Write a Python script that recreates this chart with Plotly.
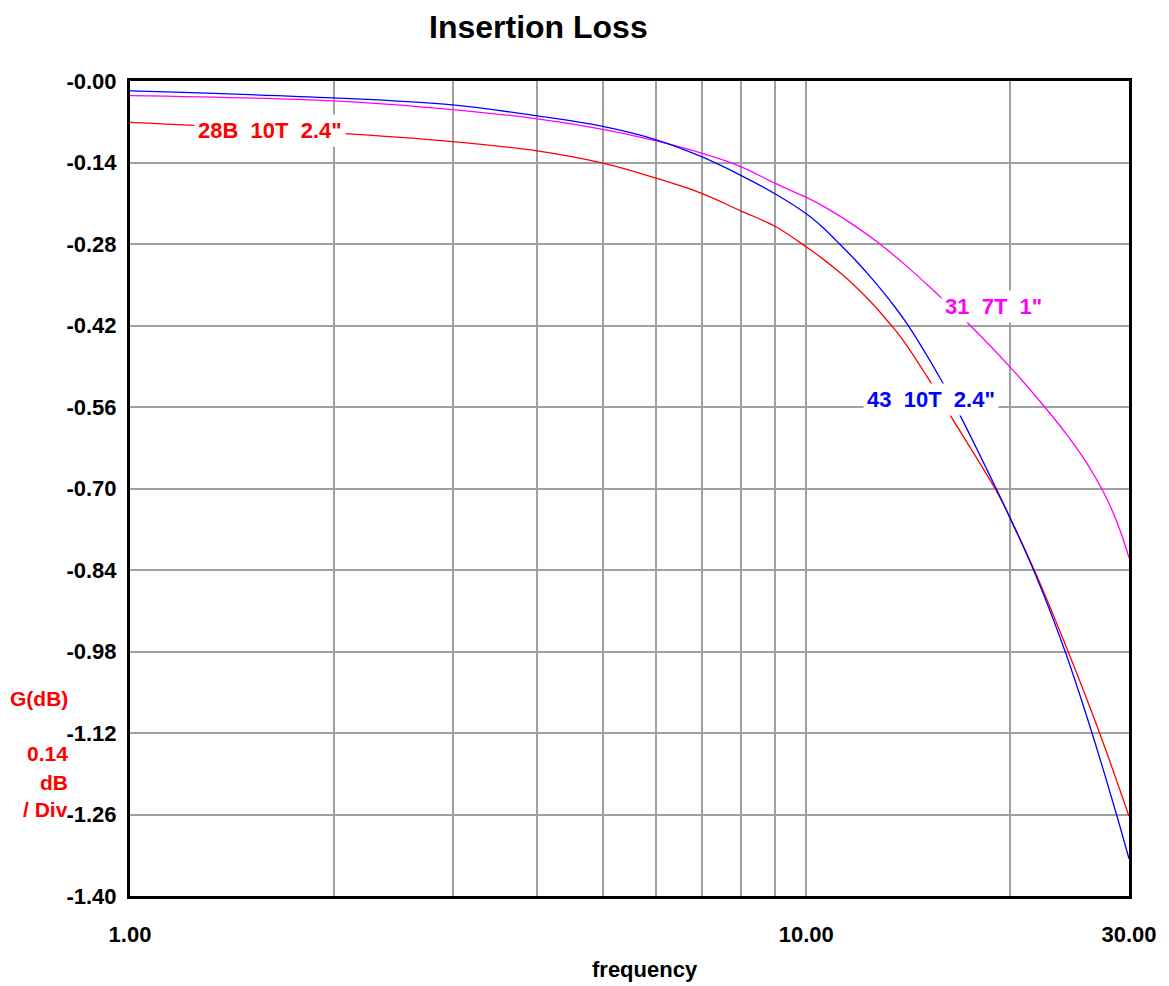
import plotly.graph_objects as go

# ---- data ----
freq_43 = [1, 2, 3, 4, 5, 6, 7, 8, 9, 10, 10.59, 11.09, 11.87, 12.56, 13.29, 14.07,
           15.85, 16.77, 19.1, 20, 21.8, 24.1, 26.4, 28.7, 30]
gain_43 = [-0.017, -0.029, -0.041, -0.060, -0.078, -0.101, -0.130, -0.162, -0.194,
           -0.228, -0.252, -0.275, -0.310, -0.342, -0.377, -0.416,
           -0.515, -0.568, -0.701, -0.750, -0.847, -0.978, -1.117, -1.257, -1.336]

freq_28b = [1, 2, 3, 4, 5, 6, 7, 8, 9, 10, 10.59, 11.21, 11.87, 12.56, 13.29, 13.75,
            15.2, 16.2, 19.1, 20, 21.8, 24.4, 27.2, 30]
gain_28b = [-0.071, -0.089, -0.104, -0.120, -0.141, -0.167, -0.193, -0.223, -0.250,
            -0.285, -0.306, -0.329, -0.355, -0.384, -0.417, -0.438,
            -0.514, -0.568, -0.704, -0.750, -0.844, -0.981, -1.123, -1.263]

freq_31 = [1, 2, 3, 4, 5, 6, 7, 8, 9, 10, 10.59, 11.87, 12.78, 14.07, 15.49, 17.06, 20,
           22.4, 24.26, 25.97, 27.5, 28.43, 29.25, 30]
gain_31 = [-0.025, -0.034, -0.049, -0.065, -0.083, -0.103, -0.124, -0.147, -0.176, -0.200,
           -0.215, -0.251, -0.278, -0.318, -0.362, -0.408, -0.491,
           -0.557, -0.607, -0.656, -0.706, -0.742, -0.779, -0.819]

series_names = ['28B\u00a0\u00a010T\u00a0\u00a02.4"', '31\u00a0\u00a07T\u00a0\u00a01"', '43\u00a0\u00a010T\u00a0\u00a02.4"']

y_tick_vals = [0.0, -0.14, -0.28, -0.42, -0.56, -0.70, -0.84, -0.98, -1.12, -1.26, -1.40]
y_tick_text = ["-0.00", "-0.14", "-0.28", "-0.42", "-0.56", "-0.70", "-0.84", "-0.98",
               "-1.12", "-1.26", "-1.40"]
x_tick_vals = [1, 10, 30]
x_tick_text = ["1.00", "10.00", "30.00"]
x_grid_minor = [2, 3, 4, 5, 6, 7, 8, 9, 20]

# ---- figure geometry (page has an 8px body margin) ----
OFF = 8
W, H = 1169 - OFF, 986 - OFF
L, R, T, B = 130 - OFF, 40, 81 - OFF, 90
pw, ph = W - L - R, H - T - B


def px(xp):
    return (xp - OFF - L) / pw


def py(yp):
    return (OFF + T + ph - yp) / ph


FONT = "Liberation Sans, Arial, sans-serif"
RED, BLUE, MAG = "#ff0000", "#0000ff", "#ff00ff"

fig = go.Figure()
fig.add_trace(go.Scatter(x=freq_28b, y=gain_28b, mode="lines", line=dict(color=RED, width=1.3),
                         name=series_names[0], line_shape="spline"))
fig.add_trace(go.Scatter(x=freq_31, y=gain_31, mode="lines", line=dict(color=MAG, width=1.3),
                         name=series_names[1], line_shape="spline"))
fig.add_trace(go.Scatter(x=freq_43, y=gain_43, mode="lines", line=dict(color=BLUE, width=1.3),
                         name=series_names[2], line_shape="spline"))

grid_col = "#a0a0a0"
fig.update_xaxes(
    type="log", range=[0, 1.4771212547], tickmode="array", tickvals=x_tick_vals,
    ticktext=x_tick_text, showgrid=True, gridcolor=grid_col, gridwidth=2,
    minor=dict(tickmode="array", tickvals=x_grid_minor, showgrid=True,
               gridcolor=grid_col, gridwidth=2, ticks=""),
    showline=True, linecolor="black", linewidth=3, mirror=True, zeroline=False,
    ticks="", ticklabelstandoff=17,
    tickfont=dict(family=FONT, size=22, color="black", weight="bold"),
)
fig.update_yaxes(
    range=[-1.40, 0.0], tickmode="array", tickvals=y_tick_vals, ticktext=y_tick_text,
    showgrid=True, gridcolor=grid_col, gridwidth=2, zeroline=False,
    showline=True, linecolor="black", linewidth=3, mirror=True,
    ticks="", ticklabelstandoff=6,
    tickfont=dict(family=FONT, size=22, color="black", weight="bold"),
)

ann = []
ann.append(dict(text="<b>Insertion Loss</b>", xref="paper", yref="paper", x=px(538), y=py(27),
                xanchor="center", yanchor="middle", showarrow=False,
                font=dict(family=FONT, size=32, color="black")))
ann.append(dict(text="<b>frequency</b>", xref="paper", yref="paper", x=px(645), y=py(970),
                xanchor="center", yanchor="middle", showarrow=False,
                font=dict(family=FONT, size=22, color="black")))
for txt, yy in [("G(dB)", 698), ("0.14", 753), ("dB", 782), ("/ Div", 809)]:
    ann.append(dict(text="<b>" + txt + "</b>", xref="paper", yref="paper", x=px(70), y=py(yy),
                    xanchor="right", yanchor="middle", showarrow=False,
                    font=dict(family=FONT, size=21, color=RED)))
for txt, cx, cy, col in [(series_names[0], 270, 130.5, RED),
                         (series_names[1], 993, 306, MAG),
                         (series_names[2], 931, 399, BLUE)]:
    ann.append(dict(text="<b>" + txt + "</b>", xref="paper", yref="paper", x=px(cx), y=py(cy),
                    xanchor="center", yanchor="middle", showarrow=False, bgcolor="white",
                    borderpad=3, font=dict(family=FONT, size=22, color=col)))

fig.update_layout(
    width=W, height=H, margin=dict(l=L, r=R, t=T, b=B),
    plot_bgcolor="white", paper_bgcolor="white", showlegend=False,
    annotations=ann,
)

fig.write_html("out.html")
